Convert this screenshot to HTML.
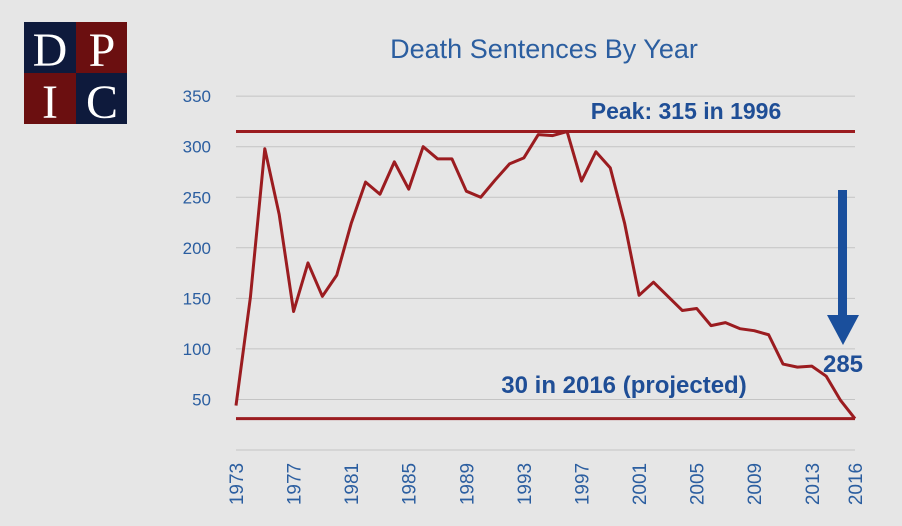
<!DOCTYPE html>
<html><head><meta charset="utf-8"><style>
body{margin:0;background:#e6e6e6;}
svg{display:block;font-family:"Liberation Sans",sans-serif;}
</style></head><body>
<svg id="c" width="902" height="526">
<rect width="902" height="526" fill="#e6e6e6"/>
<g font-family="Liberation Serif,serif" fill="#fff" font-size="48" text-anchor="middle">
<rect x="24" y="22" width="52" height="51" fill="#0e1a3c"/>
<rect x="76" y="22" width="51" height="51" fill="#6b0f10"/>
<rect x="24" y="73" width="52" height="51" fill="#6b0f10"/>
<rect x="76" y="73" width="51" height="51" fill="#0e1a3c"/>
<text x="50" y="66">D</text><text x="102" y="66">P</text>
<text x="50" y="118">I</text><text x="102" y="118">C</text>
</g>
<text x="544" y="58" text-anchor="middle" font-size="27" fill="#2b5ea0">Death Sentences By Year</text>
<g id="grid"></g><g id="xt"></g><g id="yt"></g>
<g id="lines"></g>
<text x="686" y="119" text-anchor="middle" font-size="23" font-weight="bold" fill="#1f4e96">Peak: 315 in 1996</text>
<text x="624" y="393" text-anchor="middle" font-size="24" font-weight="bold" fill="#1f4e96">30 in 2016 (projected)</text>
<g>
<rect x="838" y="190" width="9" height="125" fill="#1a4f9c"/>
<polygon points="827,315 859,315 843,345" fill="#1a4f9c"/>
</g>
<text x="843" y="372" text-anchor="middle" font-size="24" font-weight="bold" fill="#1f4e96">285</text>
</svg>
<script>
const years=[1973,1974,1975,1976,1977,1978,1979,1980,1981,1982,1983,1984,1985,1986,1987,1988,1989,1990,1991,1992,1993,1994,1995,1996,1997,1998,1999,2000,2001,2002,2003,2004,2005,2006,2007,2008,2009,2010,2011,2012,2013,2014,2015,2016];
const sentences=[44,151,298,233,137,185,152,173,224,265,253,285,258,300,288,288,256,250,267,283,289,312,311,315,266,295,279,224,153,166,152,138,140,123,126,120,118,114,85,82,83,73,49,31];
const yTicks=[50,100,150,200,250,300,350];
const xTicks=[1973,1977,1981,1985,1989,1993,1997,2001,2005,2009,2013,2016];
const refLines=[315,31];
const NS="http://www.w3.org/2000/svg";
const x=v=>236+(v-1973)*(855-236)/43;
const y=v=>450-v*1.011;
function mk(t,a,p){const e=document.createElementNS(NS,t);for(const k in a)e.setAttribute(k,a[k]);p.appendChild(e);return e;}
const g=document.getElementById('grid'),yt=document.getElementById('yt'),xt=document.getElementById('xt'),L=document.getElementById('lines');
[0,...yTicks].forEach(v=>{const l=mk('line',{x1:236,x2:855,y1:y(v),y2:y(v),stroke:'#c4c4c4','stroke-width':1},g);

});
yTicks.forEach(v=>{const t=mk('text',{x:211,y:y(v)+6,'text-anchor':'end','font-size':17,fill:'#2b5ea0'},yt);t.textContent=v;

});
xTicks.forEach(v=>{const t=mk('text',{transform:`translate(${x(v)+7},${y(0)+34}) rotate(-90)`,'text-anchor':'middle','font-size':19,fill:'#2b5ea0'},xt);t.textContent=v;

});
refLines.forEach(v=>{const l=mk('line',{x1:236,x2:855,y1:y(v),y2:y(v),stroke:'#9b1c20','stroke-width':3},L);

});
const p=mk('polyline',{points:years.map((yr,i)=>x(yr)+','+y(sentences[i])).join(' '),fill:'none',stroke:'#9b1c20','stroke-width':3,'stroke-linejoin':'round'},L);


</script>
</body></html>
